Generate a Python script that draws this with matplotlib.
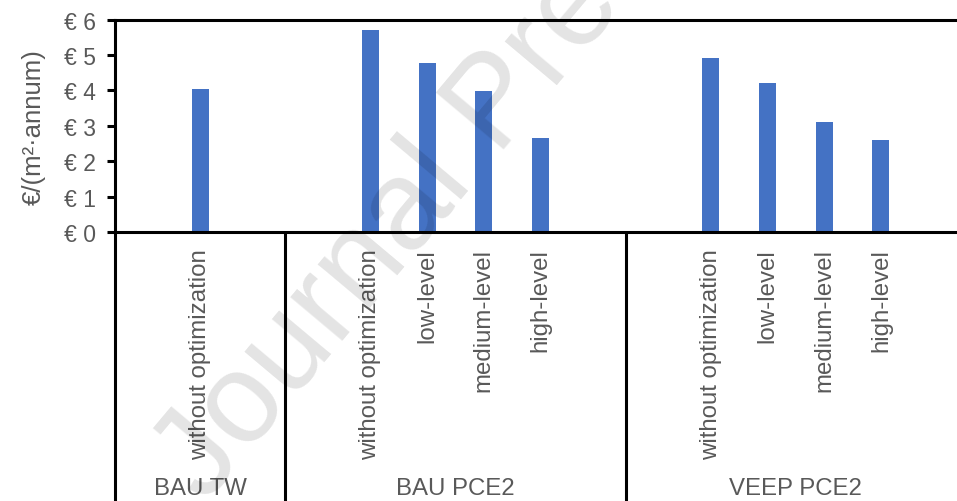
import numpy as np
import matplotlib
matplotlib.use("Agg")
import matplotlib.pyplot as plt
import matplotlib.transforms as mtransforms

plt.rcParams['font.family'] = ['Liberation Sans', 'DejaVu Sans']

group_names = ["BAU TW", "BAU PCE2", "VEEP PCE2"]
levels = ["without optimization", "low-level", "medium-level", "high-level"]
bau_tw = [4.04]
bau_pce2 = [5.69, 4.77, 3.98, 2.66]
veep_pce2 = [4.92, 4.22, 3.10, 2.61]
yticks = [0, 1, 2, 3, 4, 5, 6]
ylabel = "€/(m²·annum)"

series = [bau_tw, bau_pce2, veep_pce2]
text_col = "#595959"
bar_col = "#4472C4"

fig = plt.figure(figsize=(9.57, 5.02), dpi=100)
# axes runs a little past the right edge, like the cropped original
ax = fig.add_axes([115 / 957, 1 - 233 / 502, 851 / 957, 212.5 / 502])

# each group gets an empty slot before and after its bars
xs, vals, labs, edges = [], [], [], [-0.5]
pos = 0
for vals_g in series:
    pos += 1
    for i, v in enumerate(vals_g):
        xs.append(pos)
        vals.append(v)
        labs.append(levels[i])
        pos += 1
    pos += 1
    edges.append(pos - 0.5)

ax.bar(xs, vals, width=0.3, color=bar_col, zorder=2)
ax.set_xlim(-0.5, pos - 0.5)
ax.set_ylim(0, 6)
ax.set_yticks(yticks)
ax.set_yticklabels([f"€ {t}" for t in yticks], color=text_col, fontsize=16.5)
ax.set_xticks([])
ax.tick_params(axis='y', length=6, width=2.2, pad=8, color='black')
for s in ax.spines.values():
    s.set_linewidth(2.2)
    s.set_color('black')
ax.set_ylabel(ylabel, color=text_col, fontsize=18.5, labelpad=13)

trans = mtransforms.blended_transform_factory(ax.transData, ax.transAxes)
for e in edges:
    ax.plot([e, e], [0, -1.5], color='black', lw=2.2, transform=trans,
            clip_on=False, solid_capstyle='butt')

for x, lab in zip(xs, labs):
    ax.text(x, -0.075, lab, rotation=90, ha='center', va='top',
            color=text_col, fontsize=17.3, transform=trans)

for i, g in enumerate(group_names):
    ax.text((edges[i] + edges[i + 1]) / 2, -1.205, g, ha='center', va='center',
            color=text_col, fontsize=17.3, transform=trans)

# journal watermark
fig.text(205 / 957, 1 - 505 / 502, "Journal Pre-proof", fontsize=92,
         rotation=50, rotation_mode='anchor', ha='left', va='baseline',
         color='black', alpha=0.11, zorder=10)

fig.savefig("out.png", dpi=100)
